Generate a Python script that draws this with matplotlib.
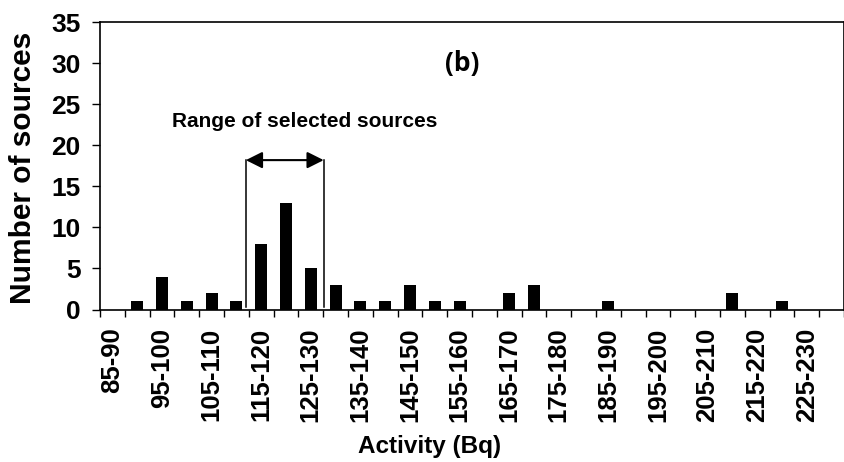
import numpy as np
import matplotlib.pyplot as plt

# Activity bins (Bq) and number of sources in each bin
bins = ['85-90', '90-95', '95-100', '100-105', '105-110', '110-115',
        '115-120', '120-125', '125-130', '130-135', '135-140', '140-145',
        '145-150', '150-155', '155-160', '160-165', '165-170', '170-175',
        '175-180', '180-185', '185-190', '190-195', '195-200', '200-205',
        '205-210', '210-215', '215-220', '220-225', '225-230', '230-235']
counts = [0, 1, 4, 1, 2, 1, 8, 13, 5, 3,
          1, 1, 3, 1, 1, 0, 2, 3, 0, 0,
          1, 0, 0, 0, 0, 2, 0, 1, 0, 0]

# selected range: 115-130 Bq
sel_first, sel_last = '115-120', '125-130'

plt.rcParams['font.family'] = ['Liberation Sans', 'DejaVu Sans']
plt.rcParams['font.weight'] = 'bold'

fig = plt.figure(figsize=(8.44, 4.62), dpi=100)
ax = fig.add_axes([0.1185, 0.330, 0.8815, 0.622])

x = np.arange(len(bins))
ax.bar(x, counts, width=0.48, color='black', edgecolor='none')

ax.set_xlim(-0.5, 29.1)
ax.set_ylim(0, 35)
ax.set_yticks(range(0, 36, 5))
ax.tick_params(axis='y', direction='out', length=5.8, width=1, pad=8, labelsize=19)

# labels on every other bin, tick marks on bin boundaries
ax.set_xticks(x[::2])
ax.set_xticklabels(bins[::2], rotation=90)
ax.set_xticks(np.arange(len(bins) + 1) - 0.5, minor=True)
ax.tick_params(axis='x', which='major', length=0, pad=13, labelsize=18.5)
ax.tick_params(axis='x', which='minor', direction='out', length=5, width=1)

for sp in ax.spines.values():
    sp.set_linewidth(1.2)

# bracket for the range of selected sources
i0 = bins.index(sel_first) - 0.62
i1 = bins.index(sel_last) + 0.52
top = 18.2
ax.plot([i0, i0], [0.3, top], color='black', lw=1.1)
ax.plot([i1, i1], [0.3, top], color='black', lw=1.1)
ax.annotate('', xy=(i0, top), xytext=(i1, top),
            arrowprops=dict(arrowstyle='<|-|>', color='black', lw=1.5,
                            mutation_scale=25, shrinkA=0, shrinkB=0))
ax.text(7.75, 22.9, 'Range of selected sources', ha='center', va='center',
        fontsize=15, fontweight='bold')
ax.text(14.1, 30.0, '(b)', ha='center', va='center', fontsize=19,
        fontweight='bold', family=['Open Sans', 'DejaVu Sans'])

fig.text(23 / 844, 1 - 168 / 462, 'Number of sources', rotation=90,
         ha='center', va='center', fontsize=21.5, fontweight='bold')
fig.text(430 / 844, 1 - 447 / 462, 'Activity (Bq)', ha='center', va='center',
         fontsize=17.5, fontweight='bold')

fig.savefig('out.png', dpi=100)
